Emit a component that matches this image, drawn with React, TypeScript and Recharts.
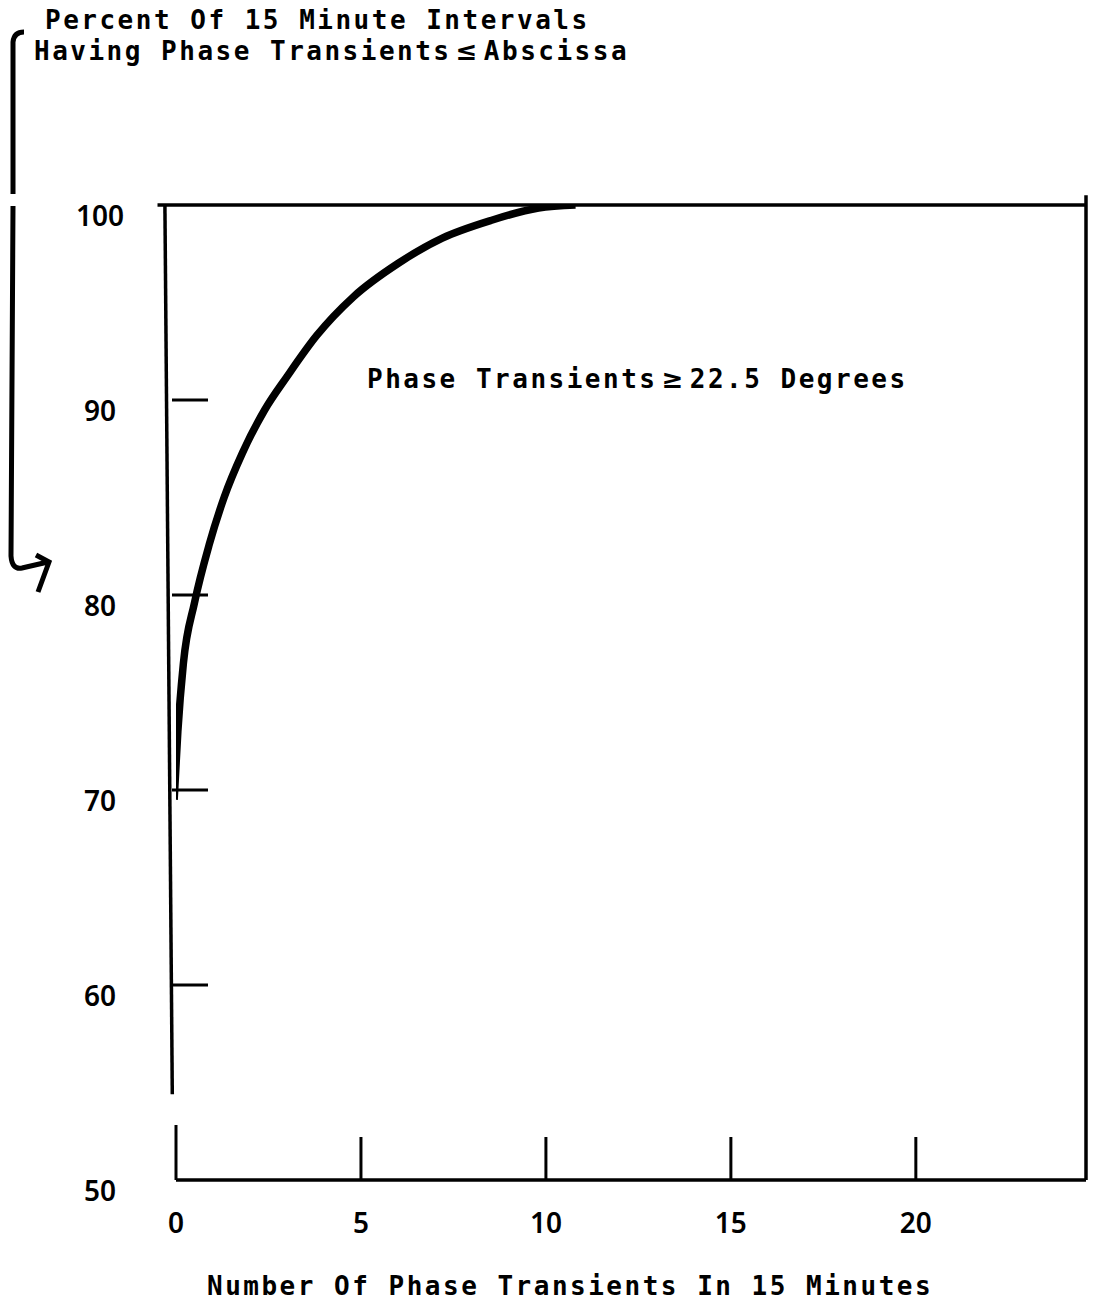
import React from "react";
import {
  ComposedChart,
  Line,
  XAxis,
  YAxis,
  ReferenceLine,
  Customized,
} from "recharts";

// Cumulative percent curve (x = number of phase transients, y = percent)
const transients = [-0.05, 0.05, 0.2, 0.5, 0.9, 1.3, 1.8, 2.4, 3.0, 3.8, 4.8, 6.0, 7.2, 8.5, 9.8, 10.8];
const percents = [69.5, 73.0, 76.5, 79.6, 82.6, 85.0, 87.3, 89.5, 91.2, 93.3, 95.3, 97.0, 98.3, 99.2, 99.85, 100];

const xTicks = [0, 5, 10, 15, 20];
const yTicks = [50, 60, 70, 80, 90, 100];
const yTicksWithMark = [60, 70, 80, 90];

const xDomain: [number, number] = [0, 24.6];
const yDomain: [number, number] = [50, 100];

const data = transients.map((t, i) => ({ x: t, y: percents[i] }));

const MONO = "'DejaVu Sans Mono', monospace";
const NUM = "'Noto Sans', 'DejaVu Sans', sans-serif";
const SYM = "'DejaVu Sans', sans-serif";

const XTick = (props: any) => {
  const { x, y, payload } = props;
  const len = payload.value === 0 ? 55 : 43;
  return (
    <g>
      <line x1={x} y1={y} x2={x} y2={y - len} stroke="#000" strokeWidth={3} />
      <text
        x={x}
        y={y + 42}
        textAnchor="middle"
        dominantBaseline="central"
        fontFamily={NUM}
        fontWeight={600}
        fontSize={28}
        fill="#000"
      >
        {payload.value}
      </text>
    </g>
  );
};

const YTick = (props: any) => {
  const { x, y, payload } = props;
  const mark = yTicksWithMark.includes(payload.value);
  return (
    <g>
      {mark && <line x1={x - 4} y1={y} x2={x + 32} y2={y} stroke="#000" strokeWidth={3} />}
      <text
        x={x - 76}
        y={y + 10}
        textAnchor="middle"
        dominantBaseline="central"
        fontFamily={NUM}
        fontWeight={600}
        fontSize={28}
        fill="#000"
      >
        {payload.value}
      </text>
    </g>
  );
};

const txt = {
  fontFamily: MONO,
  fontWeight: "bold" as const,
  fontSize: 26,
  letterSpacing: 2.5,
  fill: "#000",
};

const Decorations = () => (
  <g>
    {/* bracket with hook and arrow */}
    <path
      d="M 24 32 Q 14 32 13 42 L 13 194 M 13 206 L 11 556 Q 12 570 22 568 L 48 562"
      stroke="#000"
      strokeWidth={5}
      fill="none"
    />
    <path d="M 36 555 L 49 562 L 38 592" stroke="#000" strokeWidth={5} fill="none" />
    <text x={45} y={29} {...txt}>
      Percent Of 15 Minute Intervals
    </text>
    <text x={34} y={60} {...txt}>
      Having Phase Transients
      <tspan dx={4} fontFamily={SYM}>≤</tspan>
      <tspan dx={4}>Abscissa</tspan>
    </text>
    <text x={367} y={388} {...txt}>
      Phase Transients
      <tspan dx={4} fontFamily={SYM}>≥</tspan>
      <tspan dx={4}>22.5 Degrees</tspan>
    </text>
    <text x={207} y={1295} {...txt}>
      Number Of Phase Transients In 15 Minutes
    </text>
  </g>
);

export default function App() {
  return (
    <div style={{ background: "#fff", width: 1104, height: 1305, margin: "-8px 0 0 -8px" }}>
      <ComposedChart
        width={1104}
        height={1305}
        data={data}
        margin={{ top: 205, right: 18, left: 116, bottom: 95 }}
      >
        <XAxis
          dataKey="x"
          type="number"
          domain={xDomain}
          ticks={xTicks}
          allowDataOverflow
          axisLine={{ stroke: "#000", strokeWidth: 3.5 }}
          tickLine={false}
          tickSize={0}
          tickMargin={0}
          tick={<XTick />}
          height={30}
          interval={0}
        />
        <YAxis
          type="number"
          domain={yDomain}
          ticks={yTicks}
          allowDataOverflow
          axisLine={false}
          tickLine={false}
          tickSize={0}
          tickMargin={0}
          tick={<YTick />}
          width={60}
          interval={0}
        />
        <ReferenceLine
          segment={[{ x: -0.5, y: 100 }, { x: 24.6, y: 100 }]}
          stroke="#000"
          strokeWidth={3.5}
          ifOverflow="visible"
        />
        <ReferenceLine
          segment={[{ x: 24.6, y: 100.5 }, { x: 24.6, y: 50 }]}
          stroke="#000"
          strokeWidth={3.5}
          ifOverflow="visible"
        />
        <ReferenceLine
          segment={[{ x: -0.3, y: 100 }, { x: -0.1, y: 54.4 }]}
          stroke="#000"
          strokeWidth={3.5}
          ifOverflow="visible"
        />
        <Line
          dataKey="y"
          type="monotone"
          stroke="#000"
          strokeWidth={7.5}
          dot={false}
          isAnimationActive={false}
        />
        <Customized component={Decorations} />
      </ComposedChart>
    </div>
  );
}
